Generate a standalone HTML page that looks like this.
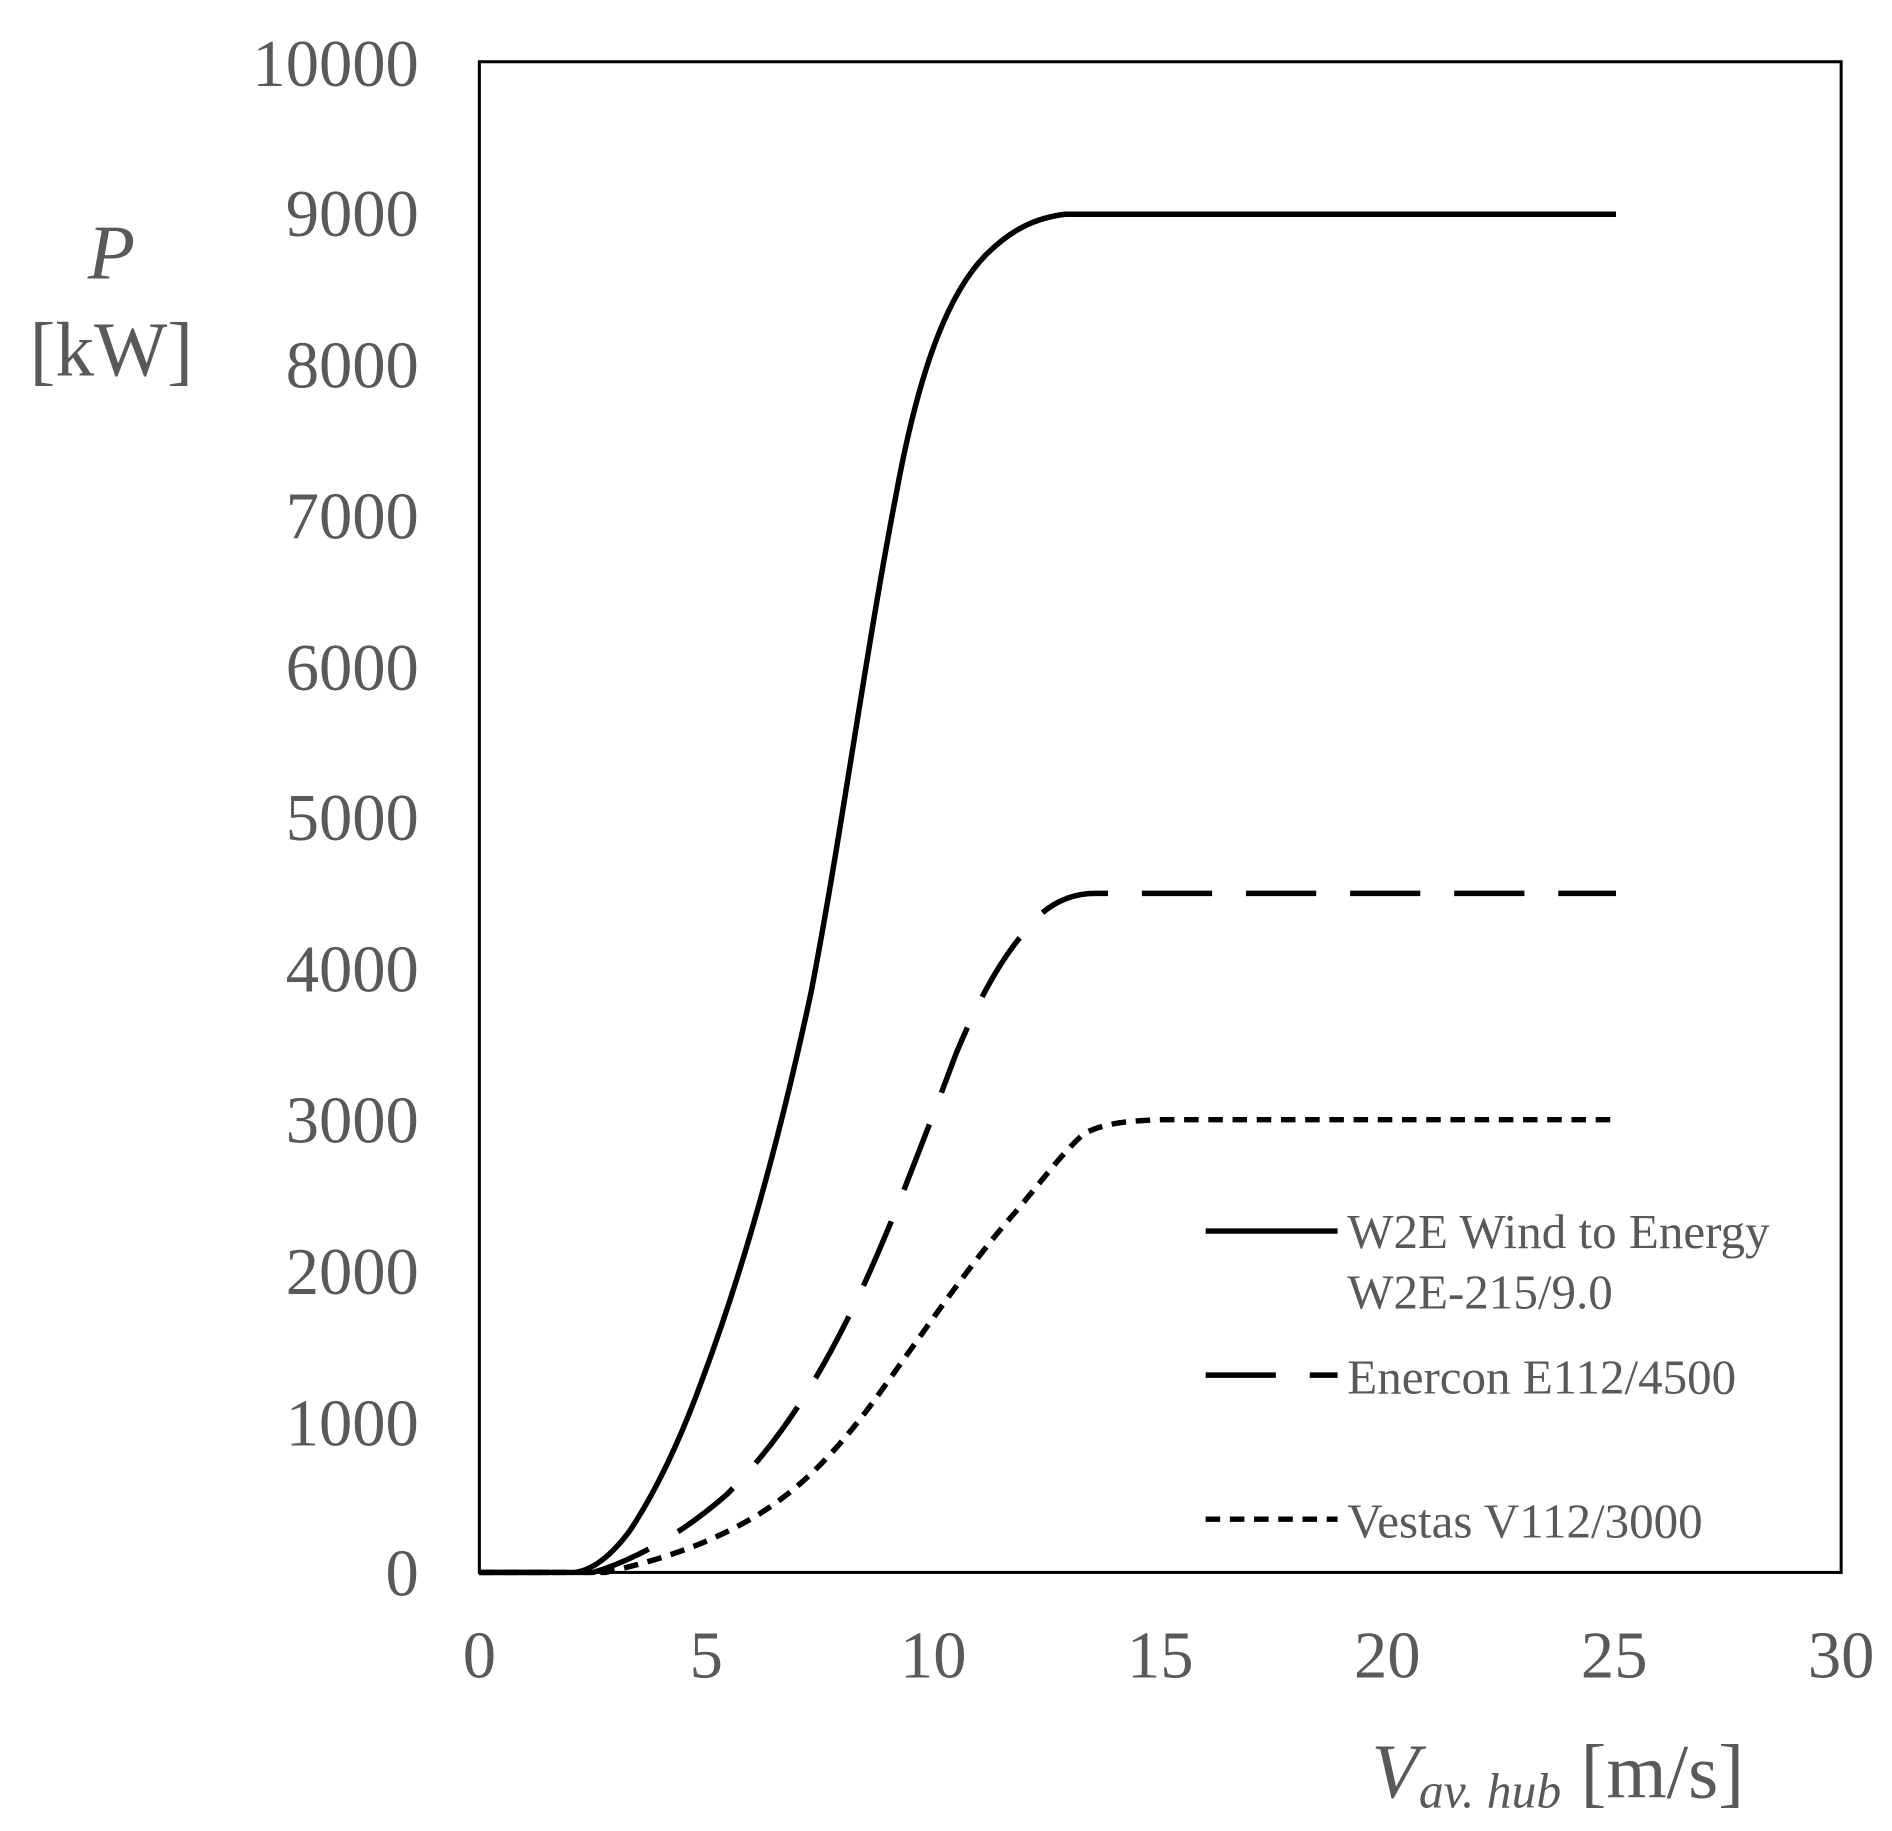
<!DOCTYPE html>
<html><head><meta charset="utf-8"><style>html,body{margin:0;padding:0;background:#fff}svg{display:block}</style></head>
<body>
<svg width="1892" height="1831" viewBox="0 0 1563 1512.6" xmlns="http://www.w3.org/2000/svg" font-family="'Liberation Serif', serif">
<rect x="396" y="51" width="1125" height="1248" fill="none" stroke="#000" stroke-width="2.5"/>
<g fill="#595959" font-size="55" text-anchor="end">
<text x="346" y="1318">0</text>
<text x="346" y="1194">1000</text>
<text x="346" y="1069">2000</text>
<text x="346" y="944">3000</text>
<text x="346" y="819">4000</text>
<text x="346" y="694">5000</text>
<text x="346" y="570">6000</text>
<text x="346" y="445">7000</text>
<text x="346" y="320">8000</text>
<text x="346" y="195">9000</text>
<text x="346" y="71">10000</text>
</g>
<g fill="#595959" font-size="55" text-anchor="middle">
<text x="396" y="1386">0</text>
<text x="583.5" y="1386">5</text>
<text x="771" y="1386">10</text>
<text x="958.5" y="1386">15</text>
<text x="1146" y="1386">20</text>
<text x="1333.5" y="1386">25</text>
<text x="1521" y="1386">30</text>
</g>
<g fill="#595959" font-size="64">
<text x="92" y="230" font-style="italic" text-anchor="middle">P</text>
<text x="92" y="310" text-anchor="middle">[kW]</text>
<text x="1133" y="1485"><tspan font-style="italic">V</tspan><tspan font-style="italic" font-size="41" dy="8">av. hub</tspan><tspan dy="-8"> [m/s]</tspan></text>
</g>
<g fill="none" stroke="#000" stroke-width="4.5" stroke-linejoin="round">
<path d="M396,1299 L475,1299 C490,1297 505,1285 520,1265 C540,1235 560,1195 580,1140 C610,1060 640,960 670,820 C695,690 715,540 740,410 C760,300 785,240 815,210 C835,190 855,180 880,177 L1335,177"/>
<path stroke-dasharray="58,28" d="M396,1299 L490,1299 C520,1290 560,1270 600,1235 C640,1195 670,1150 700,1090 C730,1030 760,950 790,870 C815,810 835,780 860,755 C875,742 890,738 905,738 L1335,738"/>
<path stroke-dasharray="12,8" d="M396,1299 L500,1299 C540,1290 580,1278 620,1255 C660,1232 690,1200 720,1160 C760,1105 800,1045 840,1000 C865,970 880,950 895,937 C910,928 930,926 960,925 L1335,925"/>
<path d="M996,1017 L1105,1017"/>
<path stroke-dasharray="58,28" d="M996,1136 L1105,1136"/>
<path stroke-dasharray="12,8" d="M996,1255 L1105,1255"/>
</g>
<g fill="#595959" font-size="40.5">
<text x="1113" y="1031">W2E Wind to Energy</text>
<text x="1113" y="1081">W2E-215/9.0</text>
<text x="1113" y="1151">Enercon E112/4500</text>
<text x="1113" y="1270">Vestas V112/3000</text>
</g>
</svg>
</body></html>
